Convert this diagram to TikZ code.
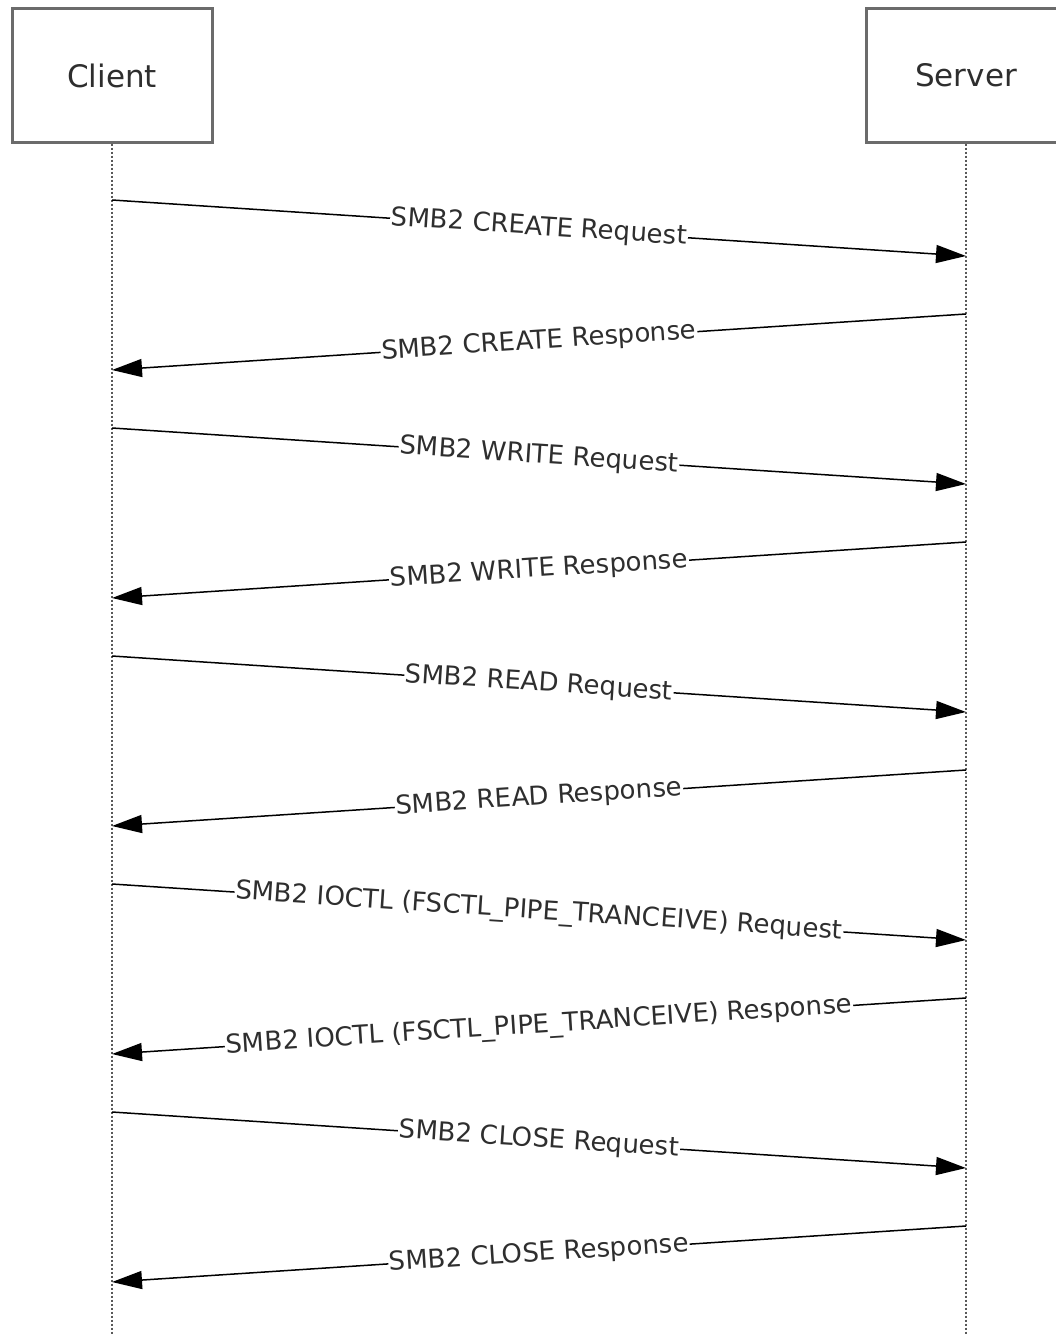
\documentclass[tikz,border=0pt]{standalone}
\usepackage{fontspec}
\setmainfont{DejaVu Sans}
\usetikzlibrary{arrows.meta}

\tikzset{
  actor/.style={draw=black!58, line width=3pt, fill=white, minimum width=200pt,
    minimum height=133pt, inner sep=0pt, font=\fontsize{31}{37}\selectfont, text=black!82},
  lifeline/.style={black!65, line width=2.2pt, dash pattern=on 2.5pt off 1.5pt},
  msg/.style={black, line width=1.5pt, -{Triangle[length=30pt,width=18pt]}},
  msglabel/.style={midway, sloped, fill=white, inner sep=1pt,
    font=\fontsize{26}{31}\selectfont, text=black!82}
}

\begin{document}
\begin{tikzpicture}[x=1pt,y=-1pt]
  \useasboundingbox (0,0) rectangle (1055,1335);

  % the two parties
  \node[actor] (client) at (112,75.5) {Client};
  \node[actor] (server) at (966,75.5) {Server};

  \coordinate (clientend) at (112,1335);
  \coordinate (serverend) at (966,1335);
  \draw[lifeline] (client.south) -- (clientend);
  \draw[lifeline] (server.south) -- (serverend);

  % one request and one response per operation
  \foreach \i/\what in {0/CREATE, 1/WRITE, 2/READ, 3/{IOCTL (FSCTL\_PIPE\_TRANCEIVE)}, 4/CLOSE} {
    \coordinate (cq\i) at (112,{200+228*\i});
    \coordinate (sq\i) at (966,{256+228*\i});
    \coordinate (sp\i) at (966,{314+228*\i});
    \coordinate (cp\i) at (112,{370+228*\i});
    \draw[msg] (cq\i) -- node[msglabel] {SMB2 \what{} Request} (sq\i);
    \draw[msg] (sp\i) -- node[msglabel] {SMB2 \what{} Response} (cp\i);
  }

\end{tikzpicture}
\end{document}
